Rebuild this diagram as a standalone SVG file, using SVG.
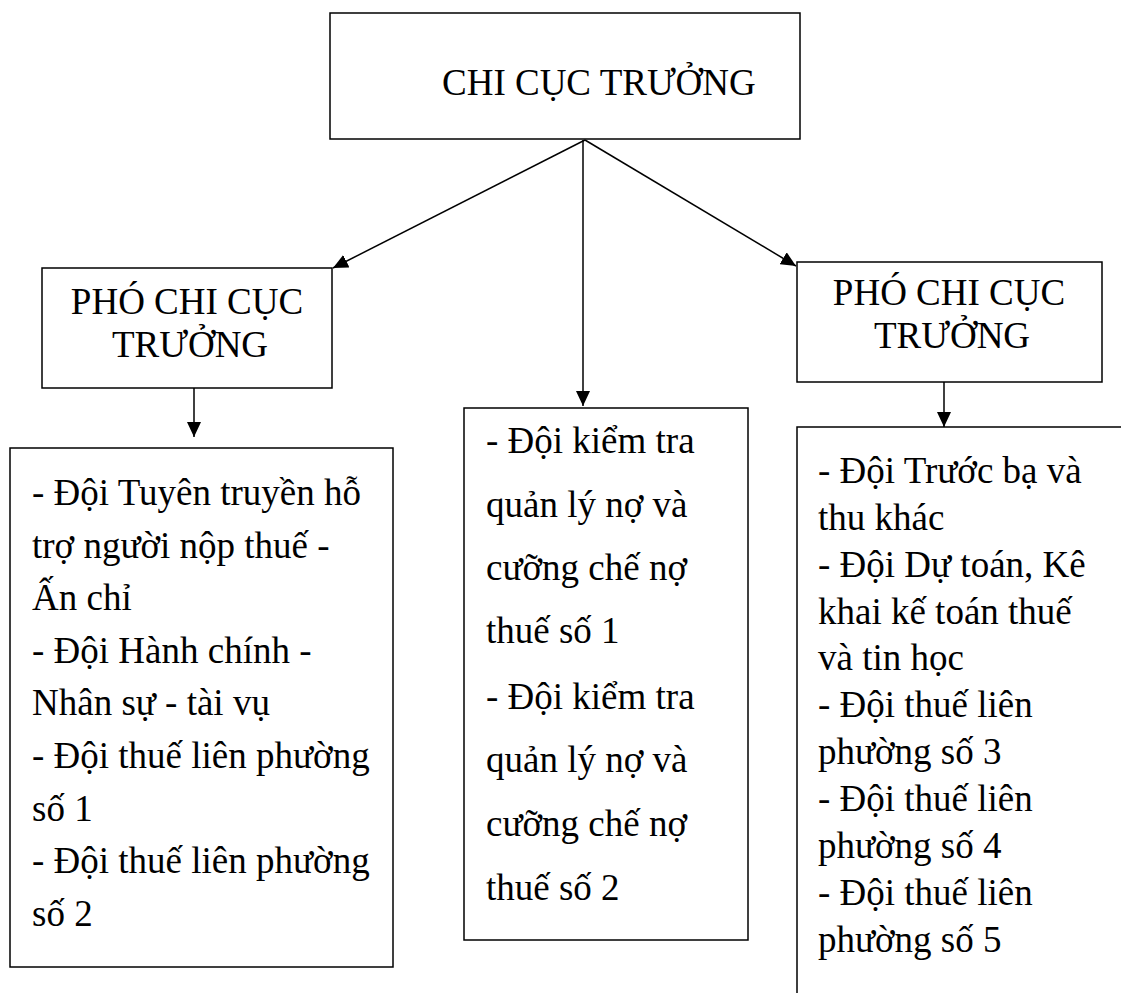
<svg xmlns="http://www.w3.org/2000/svg" width="1121" height="993" viewBox="0 0 1121 993">
<style>
.box{fill:#fff;stroke:#000;stroke-width:1.5}
.t{font-family:"Liberation Serif","Times New Roman",serif;font-size:37px;fill:#000}
.c{text-anchor:middle}
.ln{stroke:#000;stroke-width:1.5;fill:none}
</style>
<defs>
<marker id="ah" markerWidth="16" markerHeight="14" refX="15" refY="7" orient="auto" markerUnits="userSpaceOnUse">
<path d="M0,0 L15,7 L0,14 Z" fill="#000"/>
</marker>
</defs>
<rect width="1121" height="993" fill="#fff"/>
<g id="chi-cuc-truong">
<rect class="box" x="330" y="13" width="470" height="126"/>
<text class="t" x="442" y="95">CHI CỤC TRƯỞNG</text>
</g>
<g id="pho-trai">
<rect class="box" x="42" y="268" width="290" height="120"/>
<text class="t c" x="187" y="314">PHÓ CHI CỤC</text>
<text class="t c" x="190" y="357">TRƯỞNG</text>
</g>
<g id="pho-phai">
<rect class="box" x="797" y="262" width="305" height="120"/>
<text class="t c" x="949" y="305">PHÓ CHI CỤC</text>
<text class="t c" x="952" y="348">TRƯỞNG</text>
</g>
<g id="doi-trai">
<rect class="box" x="10" y="448" width="383" height="519"/>
<text class="t" x="32" y="505">- Đội Tuyên truyền hỗ</text>
<text class="t" x="32" y="557.6">trợ người nộp thuế -</text>
<text class="t" x="32" y="610">Ấn chỉ</text>
<text class="t" x="32" y="662.8">- Đội Hành chính -</text>
<text class="t" x="32" y="715">Nhân sự - tài vụ</text>
<text class="t" x="32" y="768">- Đội thuế liên phường</text>
<text class="t" x="32" y="820.6">số 1</text>
<text class="t" x="32" y="873">- Đội thuế liên phường</text>
<text class="t" x="32" y="926">số 2</text>
</g>
<g id="doi-giua">
<rect class="box" x="464" y="408" width="284" height="532"/>
<text class="t" x="486" y="453">- Đội kiểm tra</text>
<text class="t" x="486" y="517">quản lý nợ và</text>
<text class="t" x="486" y="580">cưỡng chế nợ</text>
<text class="t" x="486" y="643">thuế số 1</text>
<text class="t" x="486" y="709">- Đội kiểm tra</text>
<text class="t" x="486" y="772">quản lý nợ và</text>
<text class="t" x="486" y="836">cưỡng chế nợ</text>
<text class="t" x="486" y="900">thuế số 2</text>
</g>
<g id="doi-phai">
<rect class="box" x="797" y="427" width="340" height="600"/>
<text class="t" x="818" y="483">- Đội Trước bạ và</text>
<text class="t" x="818" y="530">thu khác</text>
<text class="t" x="818" y="577">- Đội Dự toán, Kê</text>
<text class="t" x="818" y="624">khai kế toán thuế</text>
<text class="t" x="818" y="670">và tin học</text>
<text class="t" x="818" y="717">- Đội thuế liên</text>
<text class="t" x="818" y="764">phường số 3</text>
<text class="t" x="818" y="811">- Đội thuế liên</text>
<text class="t" x="818" y="858">phường số 4</text>
<text class="t" x="818" y="905">- Đội thuế liên</text>
<text class="t" x="818" y="952">phường số 5</text>
</g>
<g id="connectors">
<line class="ln" x1="585" y1="140" x2="333" y2="268" marker-end="url(#ah)"/>
<line class="ln" x1="585" y1="140" x2="796" y2="266" marker-end="url(#ah)"/>
<line class="ln" x1="583" y1="140" x2="583" y2="406" marker-end="url(#ah)"/>
<line class="ln" x1="194" y1="388" x2="194" y2="437" marker-end="url(#ah)"/>
<line class="ln" x1="944" y1="382" x2="944" y2="427" marker-end="url(#ah)"/>
</g>
</svg>
